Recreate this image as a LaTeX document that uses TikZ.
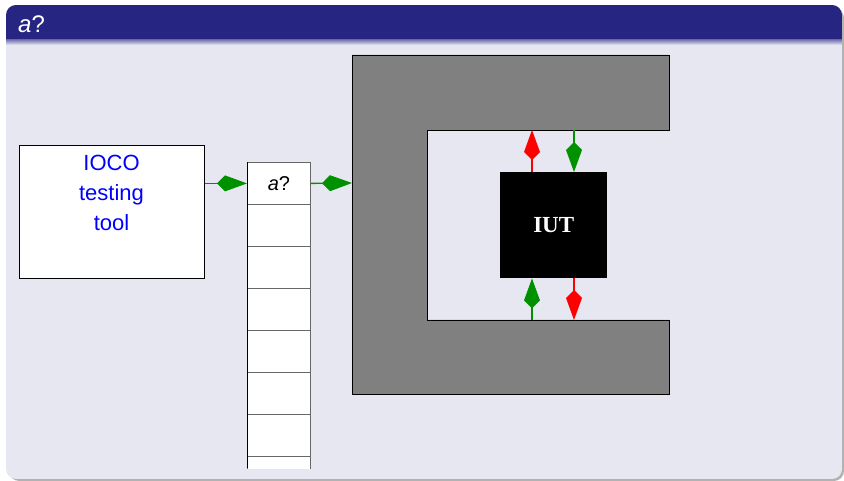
\documentclass[tikz,border=0pt]{standalone}
\usepackage{fontspec}
\setsansfont{Liberation Sans}
\newfontfamily\iutfont{Liberation Serif}
\usetikzlibrary{arrows.meta}
\definecolor{titlecol}{RGB}{38,38,130}
\definecolor{bodycol}{RGB}{231,231,241}
\definecolor{cgray}{RGB}{128,128,128}
\definecolor{agreen}{RGB}{0,145,0}
\tikzset{
  cell/.style={draw=black!60, line width=0.8pt, fill=white, minimum width=63pt, minimum height=42pt, inner sep=0pt, anchor=north west},
  kitearrow/.style={line width=1.3pt, -{Kite[length=30pt,width=16pt,inset=8pt]}},
  garrow/.style={kitearrow, draw=agreen, fill=agreen},
  rarrow/.style={kitearrow, draw=red, fill=red},
}
\begin{document}
\begin{tikzpicture}[x=1pt,y=-1pt]
\useasboundingbox (0,0) rectangle (844,481);
% block shadow and body
\fill[black!30, rounded corners=10pt] (9,8) rectangle (844,481);
\begin{scope}
  \clip[rounded corners=10pt] (6,5) rectangle (842,479);
  \fill[bodycol] (6,5) rectangle (842,479);
  \fill[titlecol] (6,5) rectangle (842,40);
  \shade[top color=titlecol!60, bottom color=bodycol] (6,40) rectangle (842,45);
\end{scope}
\node[anchor=base west, inner sep=0pt, text=white, font=\sffamily\fontsize{24}{28}\selectfont] (title) at (18,33) {\textit{a}?};
% testing tool
\node[draw=black, line width=0.7pt, fill=white, minimum width=185pt, minimum height=133pt, inner sep=0pt, anchor=north west] (tool) at (19,145) {};
\node[anchor=north, align=center, text=blue, inner sep=0pt, font=\sffamily\fontsize{22}{30}\selectfont] (toollbl) at (111.5,155) {IOCO\\testing\\tool};
% queue
\begin{scope}
  \clip (240,150) rectangle (320,468);
  \node[cell] (q1) at (247,162) {};
  \foreach \i [evaluate=\i as \yy using 162+42*(\i-1)] in {2,...,8} {
    \node[cell] (q\i) at (247,\yy) {};
  }
  \draw[black, line width=0.8pt] (q1.north west) -- (247,468);
\end{scope}
\node[inner sep=0pt, font=\sffamily\fontsize{20}{24}\selectfont] (q1lbl) at (q1.center) {\textit{a}?};
% C-shaped shell
\filldraw[fill=cgray, draw=black, line width=0.8pt] (352,55) -- (669,55) -- (669,130) -- (427,130) -- (427,320) -- (669,320) -- (669,394) -- (352,394) -- cycle;
\coordinate (cin) at (352,183);
\coordinate (ct1) at (532,130);
\coordinate (ct2) at (574,130);
\coordinate (cb1) at (532,320);
\coordinate (cb2) at (574,320);
% IUT
\node[fill=black, minimum width=107pt, minimum height=106pt, inner sep=0pt, anchor=north west, text=white, font=\iutfont\bfseries\fontsize{23}{26}\selectfont] (iut) at (500,172) {IUT};
% connectors
\draw[garrow] (tool.east |- q1.west) -- (q1.west);
\draw[garrow] (q1.east) -- (cin);
\draw[rarrow] (iut.north -| ct1) -- (ct1);
\draw[garrow] (ct2) -- (iut.north -| ct2);
\draw[garrow] (cb1) -- (iut.south -| cb1);
\draw[rarrow] (iut.south -| cb2) -- (cb2);
\end{tikzpicture}
\end{document}
